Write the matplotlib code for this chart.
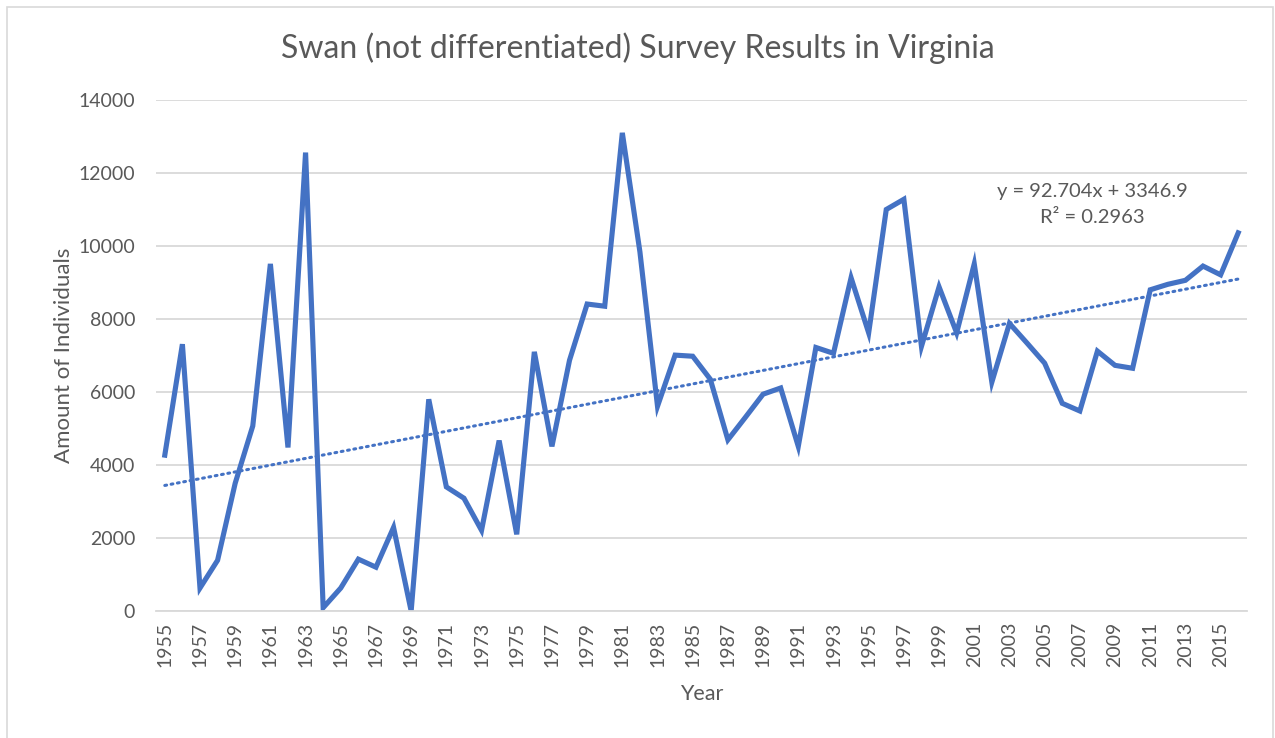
import numpy as np
import matplotlib
matplotlib.use("Agg")
import matplotlib.pyplot as plt
from matplotlib.patches import Rectangle

# Prepare data
years = list(range(1955, 2017))
counts = [4270, 7310, 630, 1390, 3500, 5070, 9510, 4480, 12560, 90,
          630, 1420, 1200, 2290, 0, 5800, 3400, 3090, 2210, 4670,
          2100, 7100, 4510, 6870, 8410, 8350, 13100, 9840, 5610, 7010,
          6980, 6350, 4690, 5310, 5940, 6110, 4510, 7220, 7060, 9130,
          7620, 11000, 11280, 7250, 8880, 7620, 9510, 6270, 7880, 7340,
          6790, 5690, 5480, 7120, 6730, 6650, 8800, 8950, 9060, 9450,
          9210, 10360]
tick_years = [str(y) for y in range(1955, 2016, 2)]
slope = 92.704
intercept = 3346.9
r_squared = 0.2963

plt.rcParams['font.family'] = ['Lato', 'DejaVu Sans']
blue = "#4472C4"
grey = "#595959"

fig = plt.figure(figsize=(12.75, 7.38), dpi=100)
ax = fig.add_axes([156 / 1275, 1 - 611 / 738, (1247 - 156) / 1275, 511 / 738])

# Chart border
fig.patches.append(Rectangle((7 / 1275, -0.01), 1266 / 1275, 1 - 7 / 738 + 0.01,
                             transform=fig.transFigure, fill=False,
                             edgecolor="#D9D9D9", linewidth=1.2))

idx = np.arange(len(years))
ax.plot(idx, counts, color=blue, linewidth=3.7, solid_joinstyle="miter")

# Linear trendline (Excel numbering starts at 1)
trend = slope * (idx + 1) + intercept
ax.plot(idx, trend, color=blue, linewidth=2.2, linestyle=(0, (0.6, 1.5)),
        dash_capstyle="round")

ax.set_xlim(-0.5, len(years) - 0.5)
ax.set_ylim(0, 14000)
ax.set_yticks(range(0, 14001, 2000))
ax.set_xticks([years.index(int(t)) for t in tick_years])
ax.set_xticklabels(tick_years, rotation=90, fontsize=14, color=grey)
ax.tick_params(axis="y", labelsize=14, labelcolor=grey, length=0, pad=15)
ax.tick_params(axis="x", length=0, pad=8)

ax.grid(axis="y", color="#D9D9D9", linewidth=1.3)
ax.set_axisbelow(True)
for s in ["top", "right", "left"]:
    ax.spines[s].set_visible(False)
ax.spines["bottom"].set_color("#D9D9D9")
ax.spines["bottom"].set_linewidth(1.3)

ax.set_xlabel("Year", fontsize=15.5, color=grey, labelpad=12)
ax.set_ylabel("Amount of Individuals", fontsize=16, color=grey, labelpad=3)
fig.text(0.5, 1 - 48 / 738, "Swan (not differentiated) Survey Results in Virginia",
         ha="center", va="center", fontsize=23, color=grey)

ax.text(52.7, 11480, f"y = {slope}x + {intercept}", ha="center", va="center",
        fontsize=14.5, color=grey)
ax.text(52.7, 10790, f"R² = {r_squared}", ha="center", va="center",
        fontsize=14.5, color=grey)

plt.savefig("out.png")
